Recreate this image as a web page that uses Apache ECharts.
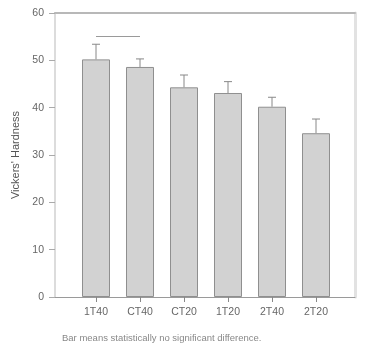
<!DOCTYPE html>
<html>
<head>
<meta charset="utf-8">
<script src="https://cdn.jsdelivr.net/npm/echarts@6/dist/echarts.min.js"></script>
<style>html,body{margin:0;padding:0;background:#fff}#c{width:376px;height:344px}</style>
</head>
<body>
<div id="c"></div>
<script>
var categories = ['1T40', 'CT40', 'CT20', '1T20', '2T40', '2T20'];
var means = [50.2, 48.6, 44.3, 43.1, 40.2, 34.6];
var errors = [3.2, 1.7, 2.6, 2.4, 2.0, 3.0];
var sigFrom = '1T40';
var sigTo = 'CT40';
var sigLevel = 55;
var yTicks = [0, 10, 20, 30, 40, 50, 60];
var footnote = 'Bar means statistically no significant difference.';

var chart = echarts.init(document.getElementById('c'));
var errData = categories.map(function (c, i) { return [i, means[i], means[i] + errors[i]]; });

chart.setOption({
  animation: false,
  backgroundColor: '#fff',
  textStyle: { fontFamily: 'Liberation Sans, Arial, sans-serif' },
  title: {
    text: footnote, left: 57, top: 328,
    textStyle: { fontSize: 9.5, fontWeight: 'normal', color: '#888' }
  },
  grid: [
    { left: 55, right: 21, top: 13, bottom: 47 },
    { left: 74, right: 38, top: 13, bottom: 47 }
  ],
  xAxis: [
    { gridIndex: 0, type: 'value', min: 0, max: 1, position: 'bottom',
      axisLine: { show: true, onZero: false, lineStyle: { color: '#9a9a9a', width: 1 } },
      axisTick: { show: false }, axisLabel: { show: false }, splitLine: { show: false } },
    { gridIndex: 0, type: 'value', min: 0, max: 1, position: 'top',
      axisLine: { show: true, onZero: false, lineStyle: { color: '#b8b8b8', width: 2 } },
      axisTick: { show: false }, axisLabel: { show: false }, splitLine: { show: false } },
    { gridIndex: 1, type: 'category', data: categories, position: 'bottom',
      axisLine: { show: false, onZero: false },
      axisTick: { show: true, alignWithLabel: true, length: 5, lineStyle: { color: '#888' } },
      axisLabel: { color: '#666', fontSize: 10.5, margin: 10 } }
  ],
  yAxis: [
    { gridIndex: 0, type: 'value', min: yTicks[0], max: yTicks[yTicks.length - 1], interval: 10,
      name: "Vickers' Hardness", nameLocation: 'middle', nameGap: 31,
      nameTextStyle: { color: '#555', fontSize: 11 },
      axisLine: { show: true, onZero: false, lineStyle: { color: '#dcdcdc', width: 2 } },
      axisTick: { show: true, length: 6, lineStyle: { color: '#aaa' } },
      axisLabel: { color: '#666', fontSize: 10.5, margin: 11 },
      splitLine: { show: false } },
    { gridIndex: 0, type: 'value', min: 0, max: 60, position: 'right',
      axisLine: { show: true, onZero: false, lineStyle: { color: '#e2e2e2', width: 3 } },
      axisTick: { show: false }, axisLabel: { show: false }, splitLine: { show: false } },
    { gridIndex: 1, type: 'value', min: 0, max: 60, interval: 10, show: false }
  ],
  series: [
    { type: 'bar', xAxisIndex: 2, yAxisIndex: 2, data: means, barWidth: 28,
      itemStyle: { color: '#d2d2d2', borderColor: '#8f8f8f', borderWidth: 1 },
      markLine: {
        silent: true, symbol: 'none', label: { show: false },
        lineStyle: { color: '#9a9a9a', type: 'solid', width: 1 },
        data: [[{ coord: [sigFrom, sigLevel] }, { coord: [sigTo, sigLevel] }]]
      } },
    { type: 'custom', xAxisIndex: 2, yAxisIndex: 2, data: errData,
      renderItem: function (params, api) {
        var x = api.value(0);
        var lo = api.coord([x, api.value(1)]);
        var hi = api.coord([x, api.value(2)]);
        var style = { stroke: '#888', lineWidth: 1 };
        return { type: 'group', children: [
          { type: 'line', shape: { x1: lo[0], y1: lo[1], x2: hi[0], y2: hi[1] }, style: style },
          { type: 'line', shape: { x1: hi[0] - 4, y1: hi[1], x2: hi[0] + 4, y2: hi[1] }, style: style }
        ] };
      } }
  ]
});
</script>
</body>
</html>
